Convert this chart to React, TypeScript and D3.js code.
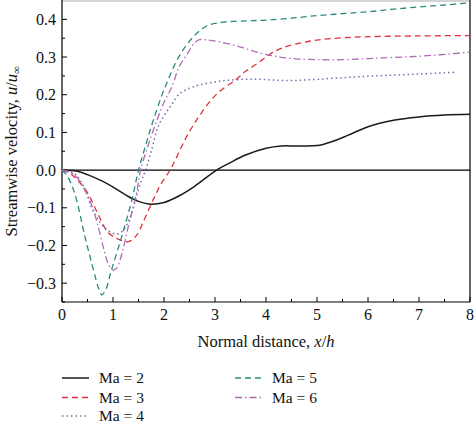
import React from "react";
import * as d3 from "d3";

// ---- data ----
const ma2X = [0, 0.3, 0.5, 0.8, 1.0, 1.3, 1.5, 1.7, 2.0, 2.3, 2.6, 3.03, 3.3, 3.6, 4.0, 4.3, 4.6, 5.0, 5.3, 5.6, 6.0, 6.5, 7.0, 7.5, 8.0];
const ma2Y = [0, -0.003, -0.012, -0.03, -0.045, -0.07, -0.083, -0.09, -0.086, -0.068, -0.043, 0.0, 0.02, 0.04, 0.058, 0.064, 0.064, 0.065, 0.076, 0.092, 0.115, 0.132, 0.141, 0.146, 0.148];

const ma3X = [0, 0.15, 0.3, 0.5, 0.7, 0.9, 1.1, 1.3, 1.45, 1.6, 1.8, 1.95, 2.12, 2.25, 2.44, 2.65, 2.87, 3.1, 3.39, 3.6, 3.82, 4.08, 4.3, 4.6, 5.0, 5.5, 6.0, 7.0, 8.0];
const ma3Y = [0, -0.008, -0.026, -0.06, -0.115, -0.165, -0.183, -0.19, -0.175, -0.135, -0.075, -0.035, 0.0, 0.035, 0.088, 0.135, 0.177, 0.21, 0.238, 0.262, 0.282, 0.308, 0.323, 0.335, 0.345, 0.351, 0.354, 0.356, 0.357];

const ma4X = [0, 0.25, 0.45, 0.58, 0.75, 0.9, 1.07, 1.2, 1.35, 1.45, 1.55, 1.64, 1.75, 1.9, 2.12, 2.31, 2.5, 2.7, 3.0, 3.23, 3.6, 3.9, 4.27, 4.6, 5.0, 5.5, 6.0, 6.5, 7.0, 7.5, 7.75];
const ma4Y = [0, -0.01, -0.05, -0.1, -0.14, -0.16, -0.17, -0.16, -0.12, -0.075, -0.03, 0.0, 0.05, 0.12, 0.168, 0.203, 0.217, 0.226, 0.234, 0.238, 0.241, 0.241, 0.238, 0.238, 0.241, 0.245, 0.249, 0.252, 0.255, 0.258, 0.26];

const ma5X = [0, 0.1, 0.25, 0.45, 0.55, 0.65, 0.72, 0.78, 0.85, 0.97, 1.17, 1.37, 1.5, 1.65, 1.79, 2.02, 2.31, 2.57, 2.75, 2.9, 3.2, 3.6, 4.0, 4.5, 5.0, 5.5, 6.0, 6.5, 7.0, 7.5, 8.0];
const ma5Y = [0, -0.015, -0.062, -0.177, -0.23, -0.282, -0.315, -0.331, -0.32, -0.265, -0.177, -0.079, 0.0, 0.07, 0.132, 0.22, 0.305, 0.353, 0.375, 0.386, 0.393, 0.396, 0.398, 0.403, 0.41, 0.415, 0.42, 0.427, 0.433, 0.438, 0.444];

const ma6X = [0, 0.25, 0.48, 0.6, 0.71, 0.82, 0.91, 1.0, 1.07, 1.14, 1.3, 1.46, 1.54, 1.7, 1.86, 2.0, 2.15, 2.3, 2.46, 2.6, 2.7, 2.85, 3.1, 3.49, 3.9, 4.27, 4.6, 5.0, 5.5, 6.0, 6.5, 7.0, 7.5, 8.0];
const ma6Y = [0, -0.013, -0.062, -0.1, -0.15, -0.21, -0.25, -0.265, -0.26, -0.238, -0.15, -0.062, 0.0, 0.07, 0.132, 0.18, 0.22, 0.275, 0.309, 0.338, 0.346, 0.345, 0.34, 0.327, 0.31, 0.3, 0.295, 0.293, 0.293, 0.296, 0.299, 0.302, 0.307, 0.313];

const seriesNames = ["Ma = 2", "Ma = 3", "Ma = 4", "Ma = 5", "Ma = 6"];
const xTicks = [0, 1, 2, 3, 4, 5, 6, 7, 8];
const yTicks = [-0.3, -0.2, -0.1, 0.0, 0.1, 0.2, 0.3, 0.4];

// ---- styles ----
const styles = [
  { color: "#1a1a1a", dash: "none", width: 1.5 },
  { color: "#e0303c", dash: "6,4", width: 1.3 },
  { color: "#6f73a8", dash: "1.5,3", width: 1.5 },
  { color: "#2a8a80", dash: "6,4", width: 1.3 },
  { color: "#b06ab8", dash: "7,3,1.5,3", width: 1.3 },
];

const W = 474, H = 424;
const FONT = "Liberation Serif, DejaVu Serif, Times New Roman, serif";
const tStyle: React.CSSProperties = { fontFamily: FONT };

export default function App() {
  const x = d3.scaleLinear().domain([0, 8]).range([62, 470]);
  const y = d3.scaleLinear().domain([-0.35, 0.45]).range([302, 0.5]);
  const line = d3
    .line<[number, number]>()
    .x((d) => x(d[0]))
    .y((d) => y(d[1]))
    .curve(d3.curveCatmullRom.alpha(0.5));

  const data: [number, number][][] = [
    ma2X.map((v, i) => [v, ma2Y[i]]),
    ma3X.map((v, i) => [v, ma3Y[i]]),
    ma4X.map((v, i) => [v, ma4Y[i]]),
    ma5X.map((v, i) => [v, ma5Y[i]]),
    ma6X.map((v, i) => [v, ma6Y[i]]),
  ];

  const xMinor = d3.range(0.5, 8, 1);
  const yMinor = d3.range(-0.35, 0.45, 0.1).map((v) => +v.toFixed(2));
  const fmt = d3.format(".1f");
  const [x0, x1] = x.range();
  const [yb, yt] = y.range();

  const legendPos = [
    { lx: 62, ty: 378 },
    { lx: 62, ty: 397.5 },
    { lx: 62, ty: 416 },
    { lx: 235, ty: 378 },
    { lx: 235, ty: 397.5 },
  ];

  return (
    <svg
      width={W}
      height={H}
      style={{ position: "absolute", left: 0, top: 0, background: "#fff", fontFamily: FONT }}
    >
      <defs>
        <clipPath id="plot">
          <rect x={x0} y={yt} width={x1 - x0} height={yb - yt} />
        </clipPath>
      </defs>
      {/* frame */}
      <line x1={x0} x2={x1} y1={1} y2={1} stroke="#d4d4d4" strokeWidth={2} />
      <line x1={x0} x2={x1} y1={yb} y2={yb} stroke="#000" strokeWidth={1.2} />
      <line x1={x0} x2={x0} y1={0} y2={yb} stroke="#000" strokeWidth={1.2} />
      <line x1={x1} x2={x1} y1={0} y2={yb} stroke="#000" strokeWidth={1.2} />
      {/* zero line */}
      <line x1={x0} x2={x1} y1={y(0)} y2={y(0)} stroke="#000" strokeWidth={1.2} />

      {/* x ticks */}
      {xTicks.map((t) => (
        <g key={"xt" + t}>
          <line x1={x(t)} x2={x(t)} y1={yb} y2={yb - 5} stroke="#000" strokeWidth={1} />
          <text x={x(t)} y={320} textAnchor="middle" fontSize={16} fill="#111" style={tStyle}>
            {t}
          </text>
        </g>
      ))}
      {xMinor.map((t) => (
        <line key={"xm" + t} x1={x(t)} x2={x(t)} y1={yb} y2={yb - 3} stroke="#000" strokeWidth={1} />
      ))}
      {/* y ticks */}
      {yTicks.map((t) => (
        <g key={"yt" + t}>
          <line x1={x0} x2={x0 + 5} y1={y(t)} y2={y(t)} stroke="#000" strokeWidth={1} />
          <text x={56} y={y(t)} dy="0.35em" textAnchor="end" fontSize={16} fill="#111" style={tStyle}>
            {fmt(t)}
          </text>
        </g>
      ))}
      {yMinor.map((t) => (
        <line key={"ym" + t} x1={x0} x2={x0 + 3} y1={y(t)} y2={y(t)} stroke="#000" strokeWidth={1} />
      ))}

      {/* series */}
      <g clipPath="url(#plot)">
        {data.map((d, i) => (
          <path
            key={"s" + i}
            d={line(d) || ""}
            fill="none"
            stroke={styles[i].color}
            strokeWidth={styles[i].width}
            strokeDasharray={styles[i].dash}
          />
        ))}
      </g>

      {/* axis titles */}
      <text x={(x0 + x1) / 2} y={347} textAnchor="middle" fontSize={16.5} fill="#111" style={tStyle}>
        Normal distance, <tspan fontStyle="italic">x</tspan>/<tspan fontStyle="italic">h</tspan>
      </text>
      <text
        transform={`translate(17, ${(yb + yt) / 2}) rotate(-90)`}
        textAnchor="middle"
        fontSize={16.5}
        fill="#111"
        style={tStyle}
      >
        Streamwise velocity, <tspan fontStyle="italic">u</tspan>/<tspan fontStyle="italic">u</tspan>
        <tspan fontSize={11} dy={3}>∞</tspan>
      </text>

      {/* legend */}
      {seriesNames.map((n, i) => (
        <g key={"lg" + i}>
          <line
            x1={legendPos[i].lx}
            x2={legendPos[i].lx + 27}
            y1={legendPos[i].ty}
            y2={legendPos[i].ty}
            stroke={styles[i].color}
            strokeWidth={styles[i].width}
            strokeDasharray={styles[i].dash}
          />
          <text x={legendPos[i].lx + 37} y={legendPos[i].ty} dy="0.33em" fontSize={15.5} fill="#111" style={tStyle}>
            {n}
          </text>
        </g>
      ))}
    </svg>
  );
}
